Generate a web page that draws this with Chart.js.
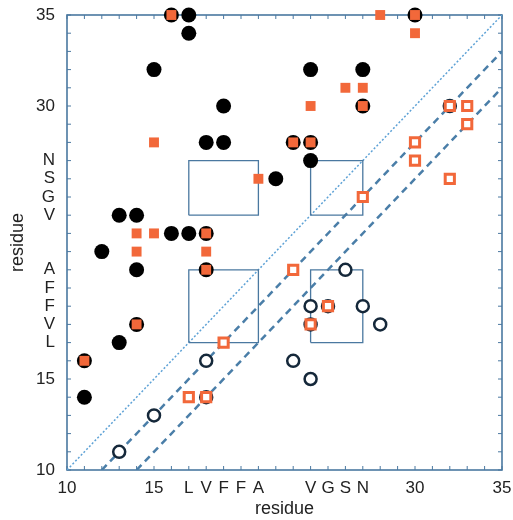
<!DOCTYPE html>
<html>
<head>
<meta charset="utf-8">
<script src="https://cdn.jsdelivr.net/npm/chart.js@4"></script>
<style>
  html, body { margin: 0; padding: 0; background: #fff; }
</style>
</head>
<body>
<canvas id="myChart" width="513" height="520"></canvas>
<script>
// tick labels (same on both axes)
const tickValues = [10, 15, 17, 18, 19, 20, 21, 24, 25, 26, 27, 30, 35];
const tickText = ['10', '15', 'L', 'V', 'F', 'F', 'A', 'V', 'G', 'S', 'N', '30', '35'];

// above the diagonal: filled black circles
const filledCircleX = [16, 17, 17, 15, 19, 18, 19, 13, 14, 16, 17, 18, 12, 14, 18, 14, 13, 11, 11, 30, 24, 27, 27, 23, 24, 24, 22];
const filledCircleY = [35, 35, 34, 32, 30, 28, 28, 24, 24, 23, 23, 23, 22, 21, 21, 18, 17, 16, 14, 35, 32, 32, 30, 28, 28, 27, 26];

// above the diagonal: filled orange squares
const filledSquareX = [16, 15, 21, 14, 15, 18, 14, 18, 18, 14, 11, 28, 30, 30, 26, 27, 24, 27, 23, 24];
const filledSquareY = [35, 28, 26, 23, 23, 23, 22, 22, 21, 18, 16, 35, 35, 34, 31, 31, 30, 30, 28, 28];

// below the diagonal: open black circles
const openCircleX = [32, 26, 24, 25, 27, 24, 28, 23, 24, 18, 18, 15, 13];
const openCircleY = [30, 21, 19, 19, 19, 18, 18, 16, 15, 16, 14, 13, 11];

// below the diagonal: open orange squares
const openSquareX = [32, 33, 33, 30, 30, 32, 27, 23, 25, 24, 19, 17, 18];
const openSquareY = [30, 30, 29, 28, 27, 26, 25, 21, 19, 18, 17, 14, 14];

// boxes: [x from, x to], [y from, y to]
const boxX = [[17, 21], [17, 21], [24, 27], [24, 27]];
const boxY = [[17, 21], [24, 27], [24, 27], [17, 21]];

// diagonal and the two offset lines (start, end)
const diagonal = [[10, 10], [35, 35]];
const offsetLines = [[[12, 10], [35, 33]], [[14, 10], [35, 31]]];

const axisColor = '#4a78a0';
const orange = '#f2683a';
const font = "'Liberation Sans', Arial, Helvetica, sans-serif";

const toPoints = (xs, ys) => xs.map((x, i) => ({ x: x, y: ys[i] }));

const datasets = [];

datasets.push({
    label: 'filled squares',
    data: toPoints(filledSquareX, filledSquareY),
    pointStyle: 'rect',
    pointRadius: 7,
    pointBackgroundColor: orange,
    pointBorderWidth: 0,
    clip: false,
    order: 1
});
datasets.push({
    label: 'open squares',
    data: toPoints(openSquareX, openSquareY),
    pointStyle: 'rect',
    pointRadius: 6.5,
    pointBackgroundColor: '#fff',
    pointBorderColor: orange,
    pointBorderWidth: 3,
    clip: false,
    order: 1
});
datasets.push({
    label: 'filled circles',
    data: toPoints(filledCircleX, filledCircleY),
    pointStyle: 'circle',
    pointRadius: 7.5,
    pointBackgroundColor: '#000',
    pointBorderWidth: 0,
    clip: false,
    order: 2
});
datasets.push({
    label: 'open circles',
    data: toPoints(openCircleX, openCircleY),
    pointStyle: 'circle',
    pointRadius: 6,
    pointBackgroundColor: '#fff',
    pointBorderColor: '#15283a',
    pointBorderWidth: 2.5,
    clip: false,
    order: 2
});

// boxes as closed outlines
boxX.forEach((bx, i) => {
    const by = boxY[i];
    datasets.push({
        type: 'scatter',
        data: [
            { x: bx[0], y: by[0] }, { x: bx[1], y: by[0] },
            { x: bx[1], y: by[1] }, { x: bx[0], y: by[1] },
            { x: bx[0], y: by[0] }
        ],
        showLine: true,
        borderColor: axisColor,
        borderWidth: 1.3,
        pointRadius: 0,
        order: 3
    });
});

datasets.push({
    type: 'scatter',
    data: diagonal.map(p => ({ x: p[0], y: p[1] })),
    showLine: true,
    borderColor: '#5ea2d6',
    borderWidth: 1.5,
    borderDash: [2, 2],
    pointRadius: 0,
    order: 3
});

offsetLines.forEach(line => {
    datasets.push({
        type: 'scatter',
        data: line.map(p => ({ x: p[0], y: p[1] })),
        showLine: true,
        borderColor: '#4a7ea8',
        borderWidth: 2.5,
        borderDash: [7, 5],
        pointRadius: 0,
        order: 3
    });
});

// frame around the plot with short inward ticks on all four sides
const frameTicks = {
    id: 'frameTicks',
    beforeDatasetsDraw(chart) {
        const { ctx, chartArea: a, scales } = chart;
        ctx.save();
        ctx.strokeStyle = axisColor;
        ctx.lineWidth = 1;
        scales.x.ticks.forEach(t => {
            const px = scales.x.getPixelForValue(t.value);
            ctx.beginPath();
            ctx.moveTo(px, a.bottom); ctx.lineTo(px, a.bottom - 4);
            ctx.moveTo(px, a.top); ctx.lineTo(px, a.top + 4);
            ctx.stroke();
        });
        scales.y.ticks.forEach(t => {
            const py = scales.y.getPixelForValue(t.value);
            ctx.beginPath();
            ctx.moveTo(a.left, py); ctx.lineTo(a.left + 4, py);
            ctx.moveTo(a.right, py); ctx.lineTo(a.right - 4, py);
            ctx.stroke();
        });
        ctx.lineWidth = 1.6;
        ctx.strokeRect(a.left, a.top, a.right - a.left, a.bottom - a.top);
        ctx.restore();
    }
};

const tickLabel = value => {
    const i = tickValues.indexOf(value);
    return i >= 0 ? tickText[i] : '';
};

new Chart(document.getElementById('myChart').getContext('2d'), {
    type: 'scatter',
    data: { datasets: datasets },
    options: {
        responsive: false,
        animation: false,
        layout: { padding: { top: 15, right: 11, left: 0, bottom: 0 } },
        scales: {
            x: {
                type: 'linear',
                min: 10,
                max: 35,
                grid: { display: false, drawTicks: false },
                border: { display: false },
                ticks: {
                    stepSize: 1,
                    autoSkip: false,
                    maxRotation: 0,
                    padding: 8,
                    color: '#222',
                    font: { family: font, size: 17 },
                    callback: tickLabel
                },
                title: {
                    display: true,
                    text: 'residue',
                    color: '#222',
                    font: { family: font, size: 18 },
                    padding: { top: 0, bottom: 0 }
                },
                afterFit(scale) {
                    scale.height = 50;
                    scale.paddingLeft = 0;
                    scale.paddingRight = 0;
                }
            },
            y: {
                type: 'linear',
                min: 10,
                max: 35,
                grid: { display: false, drawTicks: false },
                border: { display: false },
                ticks: {
                    stepSize: 1,
                    autoSkip: false,
                    padding: 12,
                    color: '#222',
                    font: { family: font, size: 17 },
                    callback: tickLabel
                },
                title: {
                    display: true,
                    text: 'residue',
                    color: '#222',
                    font: { family: font, size: 18 },
                    padding: { top: 7, bottom: 0 }
                },
                afterFit(scale) {
                    scale.width = 67;
                    scale.paddingTop = 0;
                    scale.paddingBottom = 0;
                }
            }
        },
        plugins: {
            legend: { display: false },
            tooltip: { enabled: false }
        }
    },
    plugins: [frameTicks]
});
</script>
</body>
</html>
